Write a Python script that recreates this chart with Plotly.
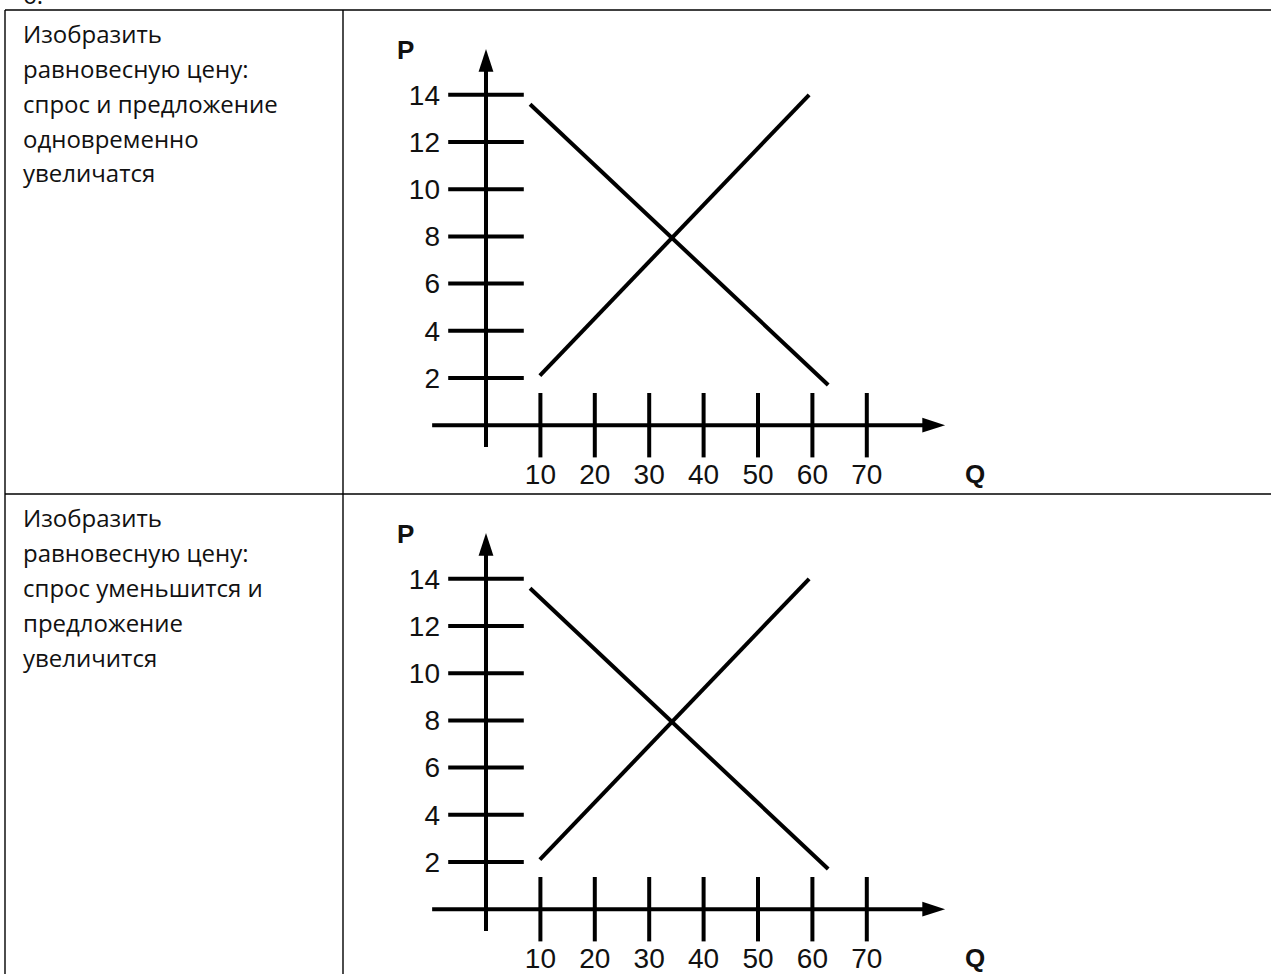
import plotly.graph_objects as go

# ---------------- data ----------------
row_texts = [
    ["Изобразить", "равновесную цену:", "спрос и предложение", "одновременно", "увеличатся"],
    ["Изобразить", "равновесную цену:", "спрос уменьшится и", "предложение", "увеличится"],
]
p_ticks = [2, 4, 6, 8, 10, 12, 14]
q_ticks = [10, 20, 30, 40, 50, 60, 70]
supply_q = [9.9, 59.4]
supply_p = [2.1, 14.0]
demand_q = [8.1, 62.9]
demand_p = [13.6, 1.7]
axis_q_extent = [-9.9, 82.0]   # horizontal axis line (Q units)
axis_p_extent = [-0.92, 15.4]  # vertical axis line (P units)
arrow_q_tip = 84.4
arrow_p_tip = 15.94

# ---------------- layout helpers ----------------
W, H = 1271, 974
Q0_PX, Q_SCALE = 486.0, 5.44
P0_PX, P_SCALE = 425.2, 23.6
ROW_OFF = 484
PLOT_L, PLOT_R = 420, 1000
PLOT_T, PLOT_B = 30, 455

def fx(px):
    return px / W

def fy(py):
    return 1 - py / H

xrange_ = [(PLOT_L - Q0_PX) / Q_SCALE, (PLOT_R - Q0_PX) / Q_SCALE]
yrange_ = [(P0_PX - PLOT_B) / P_SCALE, (P0_PX - PLOT_T) / P_SCALE]

BLACK = "#000000"
AX_FONT = "Liberation Sans, Arial, sans-serif"
TXT_FONT = "Open Sans, Noto Sans, sans-serif"
fig = go.Figure()
layout = dict(
    width=W, height=H, margin=dict(l=0, r=0, t=0, b=0),
    paper_bgcolor="white", plot_bgcolor="rgba(0,0,0,0)",
    showlegend=False, annotations=[], shapes=[],
)

for r in range(2):
    o = ROW_OFF * r
    sx = "" if r == 0 else "2"
    xa, ya = "x" + sx, "y" + sx
    # axis lines
    fig.add_trace(go.Scatter(
        x=[axis_q_extent[0], axis_q_extent[1], None, 0, 0],
        y=[0, 0, None, axis_p_extent[0], axis_p_extent[1]],
        mode="lines", line=dict(color=BLACK, width=4),
        xaxis=xa, yaxis=ya, hoverinfo="skip"))
    # arrow heads
    fig.add_trace(go.Scatter(
        x=[arrow_q_tip, 0], y=[0, arrow_p_tip], mode="markers",
        marker=dict(symbol="arrow", size=24, angle=[90, 0], color=BLACK,
                    line=dict(width=0)),
        xaxis=xa, yaxis=ya, hoverinfo="skip", cliponaxis=False))
    # tick marks crossing the axes
    fig.add_trace(go.Scatter(
        x=[0] * len(p_ticks), y=p_ticks, mode="markers",
        marker=dict(symbol="line-ew", size=54, color=BLACK,
                    line=dict(width=4, color=BLACK)),
        xaxis=xa, yaxis=ya, hoverinfo="skip", cliponaxis=False))
    fig.add_trace(go.Scatter(
        x=q_ticks, y=[0] * len(q_ticks), mode="markers",
        marker=dict(symbol="line-ns", size=46, color=BLACK,
                    line=dict(width=4, color=BLACK)),
        xaxis=xa, yaxis=ya, hoverinfo="skip", cliponaxis=False))
    # supply & demand
    fig.add_trace(go.Scatter(x=supply_q, y=supply_p, mode="lines",
                             line=dict(color=BLACK, width=4),
                             xaxis=xa, yaxis=ya, hoverinfo="skip"))
    fig.add_trace(go.Scatter(x=demand_q, y=demand_p, mode="lines",
                             line=dict(color=BLACK, width=4),
                             xaxis=xa, yaxis=ya, hoverinfo="skip"))

    tickfont = dict(family=AX_FONT, size=28, color="#111111")
    layout["xaxis" + sx] = dict(
        domain=[fx(PLOT_L), fx(PLOT_R)], range=xrange_, anchor="free",
        position=fy(455 + o), tickvals=q_ticks, ticks="", showgrid=False,
        zeroline=False, showline=False, tickfont=tickfont, fixedrange=True)
    layout["yaxis" + sx] = dict(
        domain=[fy(PLOT_B + o), fy(PLOT_T + o)], range=yrange_, anchor="free",
        position=fx(440), tickvals=p_ticks, ticks="", showgrid=False,
        zeroline=False, showline=False, tickfont=tickfont, fixedrange=True)

    # axis names
    layout["annotations"].append(dict(
        text="<b>P</b>", x=fx(405), y=fy(50 + o), xref="paper", yref="paper",
        showarrow=False, xanchor="center", yanchor="middle",
        font=dict(family=AX_FONT, size=26, color="#111111")))
    layout["annotations"].append(dict(
        text="<b>Q</b>", x=fx(975), y=fy(474 + o), xref="paper", yref="paper",
        showarrow=False, xanchor="center", yanchor="middle",
        font=dict(family=AX_FONT, size=26, color="#111111")))

    # left column text
    for i, line in enumerate(row_texts[r]):
        layout["annotations"].append(dict(
            text=line, x=fx(21), y=fy(33 + 35 * i + o), xref="paper", yref="paper",
            showarrow=False, xanchor="left", yanchor="middle",
            font=dict(family=TXT_FONT, size=24, color="#111111")))

# cut-off item number at very top
layout["annotations"].append(dict(
    text="6.", x=fx(21), y=fy(-6), xref="paper", yref="paper",
    showarrow=False, xanchor="left", yanchor="middle",
    font=dict(family=TXT_FONT, size=24, color="#111111")))

# table borders
border = dict(color=BLACK, width=1.4)
for (x0, y0, x1, y1) in [(5, 10, W + 5, 10), (5, 494, W + 5, 494),
                         (5, 10, 5, H + 5), (343, 10, 343, H + 5)]:
    layout["shapes"].append(dict(type="line", xref="paper", yref="paper",
                                 x0=fx(x0), y0=fy(y0), x1=fx(x1), y1=fy(y1),
                                 line=border))

fig.update_layout(**layout)
fig.write_html(
    "out.html",
    config={"displayModeBar": False},
    post_script="document.body.style.margin='0';document.body.style.overflow='hidden';",
)
